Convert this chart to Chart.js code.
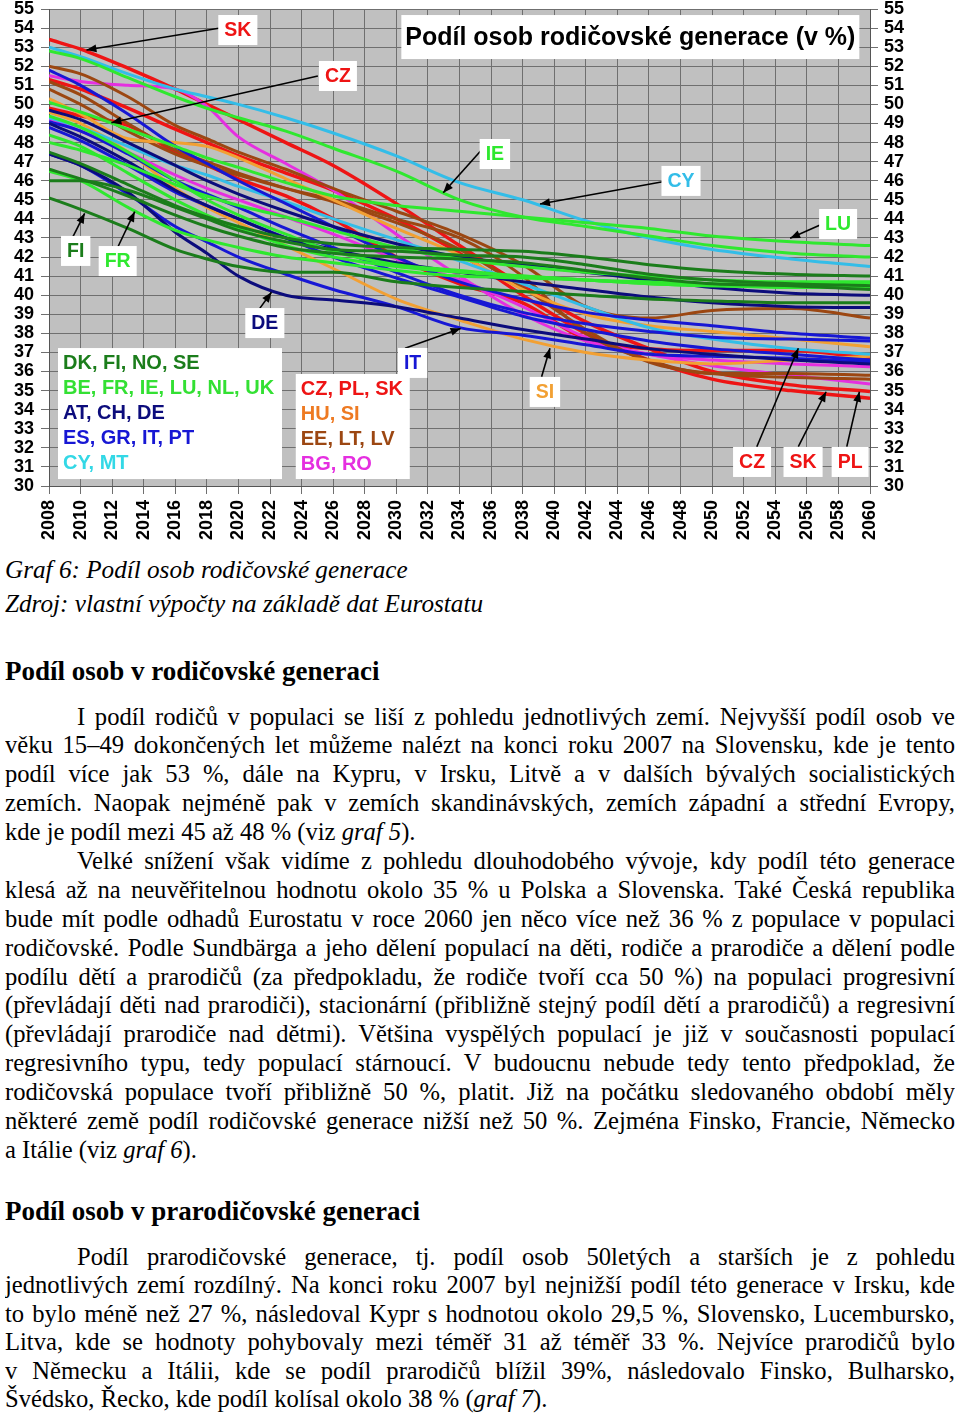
<!DOCTYPE html>
<html><head><meta charset="utf-8">
<script src="https://cdn.jsdelivr.net/npm/chart.js@4/dist/chart.umd.min.js"></script>
<style>
html,body{margin:0;padding:0;background:#fff;}
body{width:960px;height:1416px;position:relative;overflow:hidden;font-family:"Liberation Serif","Times New Roman",serif;color:#000;}
#wrap{position:absolute;left:0;top:0;width:960px;height:550px;}
.cap{position:absolute;left:5px;font-style:italic;font-size:25.2px;line-height:34px;white-space:nowrap;}
.h{position:absolute;left:5px;font-weight:bold;font-size:27px;line-height:30px;white-space:nowrap;}
.blk{position:absolute;left:5px;width:950px;font-size:24.6px;}
.blk div{height:28.9px;line-height:28.9px;white-space:nowrap;}
.blk div.j{text-align:justify;text-align-last:justify;white-space:normal;overflow:hidden;word-spacing:-3px;}
.blk div.ind{padding-left:72px;}
.p3 div{height:28.6px;line-height:28.6px;}
</style></head>
<body>
<div id="wrap"><canvas id="c" width="960" height="550"></canvas></div>

<div class="cap" style="top:553px">Graf 6: Podíl osob rodičovské generace</div>
<div class="cap" style="top:587px">Zdroj: vlastní výpočty na základě dat Eurostatu</div>
<div class="h" style="top:656px">Podíl osob v rodičovské generaci</div>
<div class="blk" style="top:702.5px">
<div class="j ind">I podíl rodičů v populaci se liší z pohledu jednotlivých zemí. Nejvyšší podíl osob ve</div>
<div class="j">věku 15–49 dokončených let můžeme nalézt na konci roku 2007 na Slovensku, kde je tento</div>
<div class="j">podíl více jak 53 %, dále na Kypru, v Irsku, Litvě a v dalších bývalých socialistických</div>
<div class="j">zemích. Naopak nejméně pak v zemích skandinávských, zemích západní a střední Evropy,</div>
<div>kde je podíl mezi 45 až 48 % (viz <i>graf 5</i>).</div>
<div class="j ind">Velké snížení však vidíme z pohledu dlouhodobého vývoje, kdy podíl této generace</div>
<div class="j">klesá až na neuvěřitelnou hodnotu okolo 35 % u Polska a Slovenska. Také Česká republika</div>
<div class="j">bude mít podle odhadů Eurostatu v roce 2060 jen něco více než 36 % z populace v populaci</div>
<div class="j">rodičovské. Podle Sundbärga a jeho dělení populací na děti, rodiče a prarodiče a dělení podle</div>
<div class="j">podílu dětí a prarodičů (za předpokladu, že rodiče tvoří cca 50 %) na populaci progresivní</div>
<div class="j">(převládají děti nad prarodiči), stacionární (přibližně stejný podíl dětí a prarodičů) a regresivní</div>
<div class="j">(převládají prarodiče nad dětmi). Většina vyspělých populací je již v současnosti populací</div>
<div class="j">regresivního typu, tedy populací stárnoucí. V budoucnu nebude tedy tento předpoklad, že</div>
<div class="j">rodičovská populace tvoří přibližně 50 %, platit. Již na počátku sledovaného období měly</div>
<div class="j">některé země podíl rodičovské generace nižší než 50 %. Zejména Finsko, Francie, Německo</div>
<div>a Itálie (viz <i>graf 6</i>).</div>
</div>
<div class="h" style="top:1196px">Podíl osob v prarodičovské generaci</div>
<div class="blk p3" style="top:1242.5px">
<div class="j ind">Podíl prarodičovské generace, tj. podíl osob 50letých a starších je z pohledu</div>
<div class="j">jednotlivých zemí rozdílný. Na konci roku 2007 byl nejnižší podíl této generace v Irsku, kde</div>
<div class="j">to bylo méně než 27 %, následoval Kypr s hodnotou okolo 29,5 %, Slovensko, Lucembursko,</div>
<div class="j">Litva, kde se hodnoty pohybovaly mezi téměř 31 až téměř 33 %. Nejvíce prarodičů bylo</div>
<div class="j">v Německu a Itálii, kde se podíl prarodičů blížil 39%, následovalo Finsko, Bulharsko,</div>
<div>Švédsko, Řecko, kde podíl kolísal okolo 38 % (<i>graf 7</i>).</div>
</div>

<script>
// ---------- DATA ----------
const years = [2008, 2010, 2013, 2016, 2018, 2020, 2023, 2026, 2030, 2034, 2038, 2042, 2046, 2050, 2055, 2060];

// DK, FI, NO, SE
const SE = [47.5, 46.9, 45.8, 44.7, 44.1, 43.6, 43.0, 42.7, 42.5, 42.4, 42.3, 42.0, 41.6, 41.3, 41.1, 41.0];
const DK = [46.0, 46.0, 45.5, 44.6, 44.0, 43.4, 42.8, 42.4, 42.3, 42.1, 42.0, 41.6, 41.1, 40.8, 40.6, 40.5];
const NO = [46.6, 46.1, 45.2, 44.2, 43.6, 43.1, 42.5, 42.2, 42.0, 41.9, 41.7, 41.3, 40.9, 40.6, 40.5, 40.3];
const FI = [45.1, 44.5, 43.5, 42.4, 41.9, 41.5, 41.2, 41.2, 40.7, 40.4, 40.2, 40.0, 39.8, 39.7, 39.6, 39.6];
// BE, FR, IE, LU, NL, UK
const BE = [48.4, 47.8, 46.4, 45.0, 44.2, 43.5, 42.6, 42.0, 41.5, 41.2, 41.0, 40.8, 40.6, 40.5, 40.5, 40.4];
const FR = [46.5, 46.0, 44.6, 43.4, 42.9, 42.5, 42.0, 41.7, 41.3, 41.0, 40.9, 40.8, 40.7, 40.6, 40.6, 40.6];
const IE = [52.8, 52.4, 51.4, 50.4, 49.8, 49.3, 48.6, 47.7, 46.5, 45.0, 44.1, 43.6, 43.1, 42.6, 42.2, 42.0];
const LU = [50.1, 49.6, 48.7, 47.8, 47.2, 46.7, 45.9, 45.2, 44.7, 44.4, 44.1, 43.8, 43.5, 43.1, 42.8, 42.6];
const NL = [49.4, 48.8, 47.5, 46.0, 45.0, 44.2, 43.2, 42.3, 41.6, 41.3, 41.0, 40.8, 40.6, 40.5, 40.4, 40.4];
const UK = [48.0, 47.6, 46.8, 45.8, 45.2, 44.7, 44.1, 43.4, 42.5, 41.9, 41.5, 41.2, 41.0, 40.8, 40.7, 40.7];
// AT, CH, DE
const AT = [49.7, 49.2, 48.0, 46.8, 46.0, 45.3, 44.4, 43.6, 42.7, 42.0, 41.6, 41.2, 40.8, 40.4, 40.1, 40.0];
const CH = [49.0, 48.3, 47.0, 45.5, 44.7, 44.0, 43.0, 42.4, 41.7, 41.2, 40.7, 40.3, 39.9, 39.6, 39.4, 39.35];
const DE = [47.4, 46.8, 45.4, 43.3, 42.2, 41.0, 40.0, 39.75, 39.4, 38.8, 38.2, 37.7, 37.2, 36.9, 36.6, 36.4];
// ES, GR, IT, PT
const ES = [51.8, 51.0, 49.5, 47.8, 46.9, 46.0, 44.8, 43.6, 42.0, 40.7, 39.8, 39.1, 38.7, 38.4, 38.0, 37.75];
const GR = [49.1, 48.6, 47.4, 46.0, 45.3, 44.6, 43.5, 42.5, 41.2, 40.0, 39.1, 38.5, 38.1, 37.8, 37.7, 37.6];
const IT = [47.4, 46.8, 45.3, 43.6, 42.8, 42.0, 41.1, 40.3, 39.4, 38.3, 37.9, 37.4, 36.9, 36.8, 36.7, 36.5];
const PT = [48.8, 48.1, 46.8, 45.4, 44.7, 44.0, 43.0, 42.0, 40.9, 39.9, 38.9, 38.2, 37.6, 37.2, 36.9, 36.6];
// CY, MT
const CY = [53.0, 52.5, 51.6, 50.8, 50.4, 50.0, 49.3, 48.5, 47.3, 45.9, 45.0, 43.9, 43.0, 42.4, 41.9, 41.5];
const MT = [49.3, 48.8, 47.8, 46.8, 46.3, 45.7, 44.9, 44.0, 42.9, 41.8, 40.6, 39.4, 38.3, 37.7, 37.2, 36.9];
// CZ, PL, SK
const CZ = [49.8, 49.4, 48.9, 47.5, 46.8, 46.1, 45.2, 44.0, 42.0, 40.6, 39.6, 37.7, 37.2, 37.1, 37.1, 36.7];
const PL = [51.3, 50.8, 49.8, 48.7, 48.0, 47.3, 46.4, 45.5, 44.0, 42.2, 40.0, 38.0, 36.6, 35.6, 35.0, 34.6];
const SK = [53.4, 52.9, 51.9, 50.8, 50.0, 49.2, 48.0, 46.8, 44.8, 42.6, 40.5, 38.6, 37.2, 36.0, 35.3, 34.95];
// HU, SI
const HU = [50.3, 49.5, 48.2, 48.0, 47.8, 47.2, 46.1, 45.0, 43.5, 42.1, 40.3, 39.0, 38.4, 38.1, 37.7, 37.3];
const SI = [49.6, 49.0, 47.5, 45.6, 44.6, 43.8, 42.6, 41.4, 39.8, 38.7, 37.7, 37.0, 36.6, 36.4, 36.6, 36.8];
// EE, LT, LV
const EE = [50.8, 50.0, 48.6, 47.4, 46.8, 46.3, 45.6, 45.0, 44.0, 43.0, 41.0, 38.0, 36.6, 35.9, 35.9, 35.8];
const LT = [52.0, 51.6, 50.4, 48.9, 48.2, 47.5, 46.6, 45.6, 44.4, 43.2, 41.6, 39.4, 38.8, 39.2, 39.3, 38.8];
const LV = [51.2, 50.5, 49.0, 47.6, 47.0, 46.4, 45.6, 44.9, 43.8, 42.4, 40.4, 38.2, 36.5, 35.9, 35.7, 35.6];
// BG, RO
const BG = [49.2, 48.6, 47.5, 46.3, 45.6, 45.0, 44.1, 43.2, 41.9, 40.8, 39.4, 37.8, 36.9, 36.6, 36.4, 36.25];
const RO = [51.5, 51.2, 51.0, 50.8, 49.9, 48.3, 46.9, 45.5, 43.2, 41.0, 39.0, 37.6, 36.9, 36.3, 35.8, 35.35];

const yTicksMin = 30, yTicksMax = 55;
const xMin = 2008, xMax = 2060;

// ---------- STYLE ----------
const COL = {
  dgreen:'#1b7d1b', green:'#2fe82f', navy:'#0c0c7c', blue:'#1717d4',
  cyan:'#33bde8', red:'#ee1414', orange:'#f2a033', brown:'#9c4712', magenta:'#e52fe0'
};
const groups = [
  {c:COL.dgreen, s:{SE,DK,NO,FI}},
  {c:COL.green, s:{BE,FR,NL,UK,LU,IE}},
  {c:COL.navy, s:{AT,CH,DE}},
  {c:COL.blue, s:{ES,GR,PT,IT}},
  {c:COL.cyan, s:{MT,CY}},
  {c:COL.orange, s:{HU,SI}},
  {c:COL.brown, s:{EE,LT,LV}},
  {c:COL.magenta, s:{BG,RO}},
  {c:COL.red, s:{PL,SK,CZ}}
];
const datasets = [];
groups.forEach(g=>{
  Object.keys(g.s).forEach(k=>{
    datasets.push({
      label:k,
      data: years.map((yr,i)=>({x:yr, y:g.s[k][i]})),
      borderColor:g.c, backgroundColor:g.c,
      borderWidth: g.c===COL.red ? 3.5 : 3,
      pointRadius:0, fill:false,
      cubicInterpolationMode:'monotone'
    });
  });
});

// annotations (data coordinates)
const labelBoxes = [
  {t:'SK', c:COL.red,    at:[2019.96,53.90], from:[2018.75,53.99], to:[2010.37,52.85]},
  {t:'CZ', c:COL.red,    at:[2026.30,51.49], from:[2025.03,51.49], to:[2011.95,49.04]},
  {t:'FI', c:COL.dgreen, at:[2009.69,42.32], from:[2009.52,43.07], to:[2010.26,44.29]},
  {t:'FR', c:COL.green,  at:[2012.35,41.79], from:[2012.37,42.54], to:[2013.43,44.38]},
  {t:'DE', c:COL.navy,   at:[2021.67,38.54], from:[2021.35,39.31], to:[2022.09,40.15]},
  {t:'IT', c:COL.blue,   at:[2031.03,36.45], from:[2030.55,37.22], to:[2034.07,38.26]},
  {t:'IE', c:COL.green,  at:[2036.24,47.40], from:[2035.35,47.57], to:[2032.97,45.37]},
  {t:'CY', c:COL.cyan,   at:[2048.03,45.99], from:[2046.87,45.95], to:[2039.10,44.78]},
  {t:'LU', c:COL.green,  at:[2057.98,43.73], from:[2056.84,43.68], to:[2054.94,42.98]},
  {t:'SI', c:COL.orange, at:[2039.41,34.93], from:[2039.20,35.73], to:[2039.73,37.22]},
  {t:'CZ', c:COL.red,    at:[2052.53,31.26], from:[2052.83,32.06], to:[2055.46,37.22]},
  {t:'SK', c:COL.red,    at:[2055.76,31.26], from:[2055.46,32.06], to:[2057.22,34.94]},
  {t:'PL', c:COL.red,    at:[2058.74,31.26], from:[2058.53,32.06], to:[2059.33,34.94]}
];
const legendLeft = {at:[2008.57,37.23], w:224, h:131, rows:[
  ['DK, FI, NO, SE', COL.dgreen], ['BE, FR, IE, LU, NL, UK', '#33e033'],
  ['AT, CH, DE', COL.navy], ['ES, GR, IT, PT', COL.blue], ['CY, MT', '#33d8e6']]};
const legendRight = {at:[2023.63,35.87], w:114, h:105, rows:[
  ['CZ, PL, SK', COL.red], ['HU, SI', '#ee7a22'], ['EE, LT, LV', COL.brown], ['BG, RO', COL.magenta]]};
const titleBox = {t:'Podíl osob rodičovské generace (v %)', at:[2044.82,53.53], w:458, h:44};

const SANS = '"Liberation Sans", Arial, sans-serif';

const bgPlugin = {
  id:'bg',
  beforeDraw(chart){
    const a = chart.chartArea, ctx = chart.ctx;
    ctx.save(); ctx.fillStyle = '#c0c0c0';
    ctx.fillRect(a.left, a.top, a.right-a.left, a.bottom-a.top);
    ctx.restore();
  }
};

function arrow(ctx, x1,y1,x2,y2){
  ctx.beginPath(); ctx.moveTo(x1,y1); ctx.lineTo(x2,y2); ctx.stroke();
  const ang = Math.atan2(y2-y1, x2-x1), L=10, W=4;
  ctx.beginPath();
  ctx.moveTo(x2,y2);
  ctx.lineTo(x2 - L*Math.cos(ang) + W*Math.sin(ang), y2 - L*Math.sin(ang) - W*Math.cos(ang));
  ctx.lineTo(x2 - L*Math.cos(ang) - W*Math.sin(ang), y2 - L*Math.sin(ang) + W*Math.cos(ang));
  ctx.closePath(); ctx.fill();
}

const annPlugin = {
  id:'ann',
  afterDatasetsDraw(chart){
    const ctx = chart.ctx, xs = chart.scales.x, ys = chart.scales.y;
    const px = v=>xs.getPixelForValue(v), py = v=>ys.getPixelForValue(v);
    ctx.save();
    ctx.strokeStyle = '#000'; ctx.fillStyle='#000'; ctx.lineWidth = 1.6;
    labelBoxes.forEach(b=>arrow(ctx, px(b.from[0]), py(b.from[1]), px(b.to[0]), py(b.to[1])));
    ctx.font = 'bold 19.5px '+SANS; ctx.textBaseline='middle'; ctx.textAlign='center';
    labelBoxes.forEach(b=>{
      const cx = px(b.at[0]), cy = py(b.at[1]);
      const w = ctx.measureText(b.t).width + 12, h = 30;
      ctx.fillStyle='#fff'; ctx.fillRect(cx-w/2, cy-h/2, w, h);
      ctx.fillStyle=b.c; ctx.fillText(b.t, cx, cy+1);
    });
    [legendLeft, legendRight].forEach(L=>{
      const x0 = px(L.at[0]), y0 = py(L.at[1]);
      ctx.fillStyle='#fff'; ctx.fillRect(x0, y0, L.w, L.h);
      ctx.textAlign='left'; ctx.font='bold 20px '+SANS;
      L.rows.forEach((r,i)=>{ ctx.fillStyle=r[1]; ctx.fillText(r[0], x0+5, y0+15+i*25.2); });
    });
    const tx = px(titleBox.at[0]), ty = py(titleBox.at[1]);
    ctx.fillStyle='#fff'; ctx.fillRect(tx-titleBox.w/2, ty-titleBox.h/2, titleBox.w, titleBox.h);
    ctx.fillStyle='#000'; ctx.textAlign='center'; ctx.font='bold 25px '+SANS;
    ctx.fillText(titleBox.t, tx, ty+1);
    ctx.restore();
  }
};

const tickFont = {family:SANS, size:18, weight:'bold'};
const gridCol = '#6f6f6f';
function noPadV(s){ s.paddingTop = 0; s.paddingBottom = 0; }

new Chart(document.getElementById('c'), {
  type:'line',
  data:{datasets},
  plugins:[bgPlugin, annPlugin],
  options:{
    responsive:false, animation:false, devicePixelRatio:1,
    layout:{padding:{top:9,left:0,right:0,bottom:0}},
    plugins:{legend:{display:false}, tooltip:{enabled:false}, title:{display:false}},
    scales:{
      x:{type:'linear', min:xMin, max:xMax,
        afterFit(s){ s.height = 64; s.paddingLeft = 0; s.paddingRight = 0; },
        border:{color:'#555', width:1},
        grid:{color:gridCol, lineWidth:1, tickLength:8, drawTicks:true},
        ticks:{stepSize:2, autoSkip:false, maxRotation:90, minRotation:90, padding:6,
          color:'#000', font:tickFont, callback:v=>String(v)}},
      y:{type:'linear', position:'left', min:yTicksMin, max:yTicksMax,
        afterFit(s){ s.width = 49; noPadV(s); },
        border:{color:'#555', width:1},
        grid:{color:gridCol, lineWidth:1, tickLength:8},
        ticks:{stepSize:1, autoSkip:false, padding:7, color:'#000', font:tickFont, callback:v=>String(v)}},
      y2:{type:'linear', position:'right', min:yTicksMin, max:yTicksMax,
        afterFit(s){ s.width = 90; noPadV(s); },
        border:{color:'#555', width:1},
        grid:{color:gridCol, lineWidth:1, tickLength:8, drawOnChartArea:false},
        ticks:{stepSize:1, autoSkip:false, padding:6, color:'#000', font:tickFont, callback:v=>String(v)}}
    }
  }
});
</script>
</body></html>
